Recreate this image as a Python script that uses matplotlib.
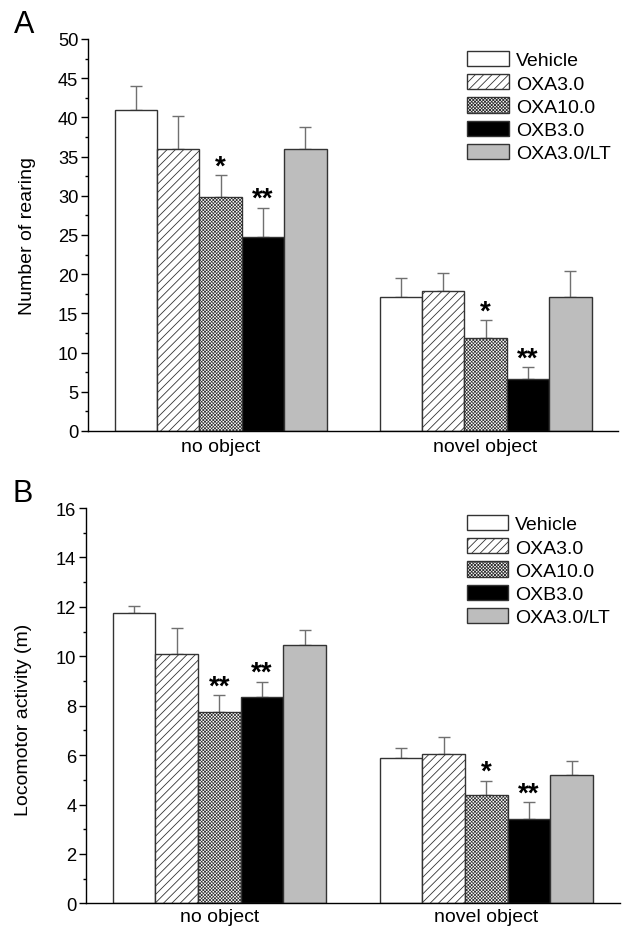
import matplotlib
matplotlib.use("Agg")
import matplotlib.pyplot as plt
import numpy as np
from matplotlib.ticker import MultipleLocator

plt.rcParams['font.family'] = ['Liberation Sans', 'DejaVu Sans']
plt.rcParams['hatch.linewidth'] = 0.6

# ---------------- data ----------------
groups = ['no object', 'novel object']
treatments = ['Vehicle', 'OXA3.0', 'OXA10.0', 'OXB3.0', 'OXA3.0/LT']

rearing_no_object = [41.0, 36.0, 29.8, 24.7, 36.0]
rearing_no_object_err = [3.0, 4.2, 2.8, 3.8, 2.8]
rearing_novel_object = [17.1, 17.9, 11.9, 6.6, 17.1]
rearing_novel_object_err = [2.4, 2.3, 2.2, 1.5, 3.3]
rearing_sig_no_object = ['', '', '*', '**', '']
rearing_sig_novel_object = ['', '', '*', '**', '']

loco_no_object = [11.75, 10.1, 7.73, 8.37, 10.46]
loco_no_object_err = [0.3, 1.03, 0.7, 0.6, 0.6]
loco_novel_object = [5.9, 6.03, 4.37, 3.4, 5.2]
loco_novel_object_err = [0.4, 0.7, 0.6, 0.7, 0.55]
loco_sig_no_object = ['', '', '**', '**', '']
loco_sig_novel_object = ['', '', '*', '**', '']

# ---------------- styles ----------------
face_colors = ['white', 'white', 'white', 'black', '#bdbdbd']
hatches = [None, '////', 'xxxxxxxxxx', None, None]
hatch_lw = [0.6, 0.6, 0.5, 0.6, 0.6]
edge_color = '#333333'
err_color = '#707070'
TXT = 14
TICK = 13.2

fig = plt.figure(figsize=(6.25, 9.28), dpi=100)


def draw_panel(ax, means_by_group, errs_by_group, sigs_by_group, ylim, major, minor,
               ylabel, ylabel_xy, legend_anchor, xpad):
    x = np.arange(len(groups))
    width = 0.16
    n = len(treatments)
    for i, t in enumerate(treatments):
        pos = x + (i - (n - 1) / 2) * width
        vals = [m[i] for m in means_by_group]
        errs = [e[i] for e in errs_by_group]
        with plt.rc_context({'hatch.linewidth': hatch_lw[i]}):
            ax.bar(pos, vals, width, color=face_colors[i], edgecolor=edge_color,
                   linewidth=1.0, hatch=hatches[i], label=t, zorder=2)
        ax.errorbar(pos, vals, yerr=[np.zeros(len(errs)), errs], fmt='none',
                    ecolor=err_color, elinewidth=1.0, capsize=4, capthick=1.0,
                    zorder=1)
        for p, v, e, s in zip(pos, vals, errs, [sg[i] for sg in sigs_by_group]):
            if s:
                ax.annotate(s, xy=(p, v + e), xytext=(0, -3), textcoords='offset points',
                            ha='center', va='bottom', fontsize=20, fontweight='bold')
    ax.set_xlim(-0.5, 1.5)
    ax.set_ylim(*ylim)
    ax.yaxis.set_major_locator(MultipleLocator(major))
    ax.yaxis.set_minor_locator(MultipleLocator(minor))
    ax.set_xticks(x)
    ax.set_xticklabels(groups, fontsize=TXT)
    ax.tick_params(axis='x', length=0, pad=xpad)
    ax.tick_params(axis='y', which='major', direction='out', length=5, width=1,
                   labelsize=TICK, pad=2)
    ax.tick_params(axis='y', which='minor', direction='out', length=2.5, width=1)
    ax.set_ylabel(ylabel, fontsize=TXT)
    ax.yaxis.set_label_coords(*ylabel_xy)
    for s in ['top', 'right']:
        ax.spines[s].set_visible(False)
    for s in ['left', 'bottom']:
        ax.spines[s].set_linewidth(1.0)
    leg = ax.legend(loc='upper left', bbox_to_anchor=legend_anchor, frameon=False,
                    fontsize=TXT, handlelength=2.15, handleheight=0.82,
                    handletextpad=0.36, labelspacing=0.25, borderpad=0,
                    borderaxespad=0)
    for h in leg.legend_handles:
        h.set_edgecolor(edge_color)
        h.set_linewidth(1.0)


axA = fig.add_axes([0.1408, 0.5345, 0.848, 0.4224])
draw_panel(axA, [rearing_no_object, rearing_novel_object],
           [rearing_no_object_err, rearing_novel_object_err],
           [rearing_sig_no_object, rearing_sig_novel_object],
           (0, 50), 5, 2.5, 'Number of rearing', (-0.098, 0.5), (0.715, 0.969), 5)

axB = fig.add_axes([0.1376, 0.0255, 0.854, 0.426])
draw_panel(axB, [loco_no_object, loco_novel_object],
           [loco_no_object_err, loco_novel_object_err],
           [loco_sig_no_object, loco_sig_novel_object],
           (0, 16), 2, 1, 'Locomotor activity (m)', (-0.101, 0.467), (0.713, 0.982), 3)

fig.text(24 / 625, 1 - 25 / 928, 'A', fontsize=22, ha='center', va='center')
fig.text(23 / 625, 1 - 494 / 928, 'B', fontsize=22, ha='center', va='center')

fig.savefig('out.png', dpi=100)
